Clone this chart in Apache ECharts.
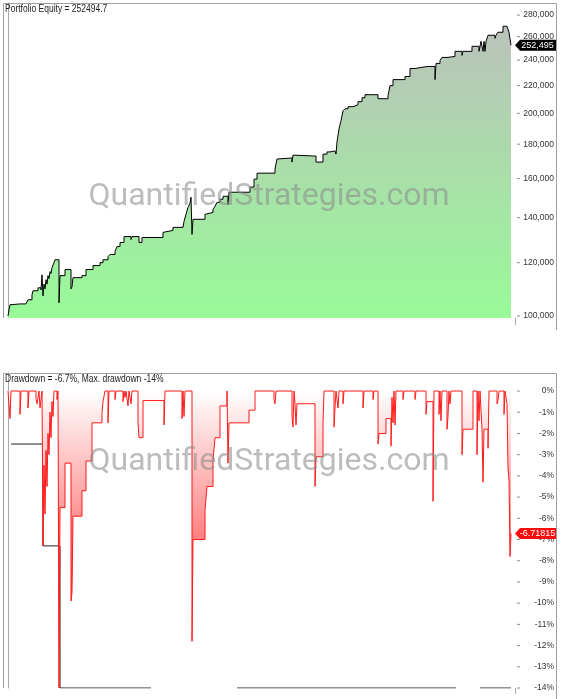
<!DOCTYPE html>
<html><head><meta charset="utf-8">
<script src="https://cdn.jsdelivr.net/npm/echarts@6/dist/echarts.min.js"></script>
<style>html,body{margin:0;padding:0;background:#fff}#c{width:567px;height:699px}</style>
</head><body><div id="c"></div>
<script>
const eqBars = [0,1,2,4,12,13,18,19,20,24,25,30,33,34,35,36,37,38,39,40,41,42,43,44,45,46,47,51,52,57,63,64,65,74,78,85,92,95,100,102,107,109,112,116,123,124,131,134,155,157,165,175,176,178,180,182,183,184,185,197,199,205,207,209,212,215,220,221,242,246,249,267,269,271,284,285,287,308,315,319,322,327,328,329,331,333,335,337,340,345,350,354,357,370,380,382,385,397,402,407,419,420,427,428,432,434,439,447,454,455,464,471,473,475,476,477,478,480,487,488,490,495,499,501,503];
const eqVals = [100000,102100,103900,104200,103500,104200,103600,104200,105700,107500,109000,110100,109300,115100,107100,111500,109700,113200,111500,114800,113600,116400,115600,118000,117200,120000,121200,104600,114800,117200,109700,110500,114000,114800,117200,118800,120000,121200,122500,123400,124600,126800,128600,131200,129900,131200,128600,130800,133100,134000,135400,135800,138200,141600,145000,147000,150100,132200,139200,141600,142500,144000,145500,147500,149100,150600,146500,152700,155400,159700,163000,165300,171100,171700,169300,173400,172800,169300,174000,175300,175900,177100,174000,181400,189700,195000,201800,203200,204600,206000,208200,211000,213200,210300,212500,219900,224500,226900,233200,234800,233200,234800,224500,237300,239700,242200,243000,247300,243900,247300,251600,247300,255900,247300,255900,247300,255900,261300,258600,261300,264000,269500,270600,264000,252494.7];
const ddBars = [0,2,3,12,13,20,21,28,29,30,31,32,33,34,35,36,37,38,39,40,41,42,43,44,45,46,49,50,51,52,57,63,64,65,74,78,84,94,95,97,100,101,107,108,115,116,117,118,120,121,123,124,130,131,135,156,157,174,175,176,177,184,185,197,199,205,207,212,219,220,221,241,247,266,267,268,284,285,286,287,288,289,307,308,315,316,326,327,328,330,331,335,336,355,356,365,366,370,371,378,383,384,385,386,387,388,395,396,407,408,418,419,425,426,431,432,433,434,439,440,441,442,443,454,455,465,469,470,471,472,474,475,476,480,481,489,490,491,496,497,499,500,501,502,503];
const ddVals = [0,-1.3,0,-1.1,0,-0.8,0,-0.4,-0.6,-0.3,0,-0.8,-0.4,0,-7.3,-3.5,-5.8,-2.8,-4.5,-2.0,-3.0,-1.0,-2.2,-0.5,-1.2,0,-0.4,0,-14.0,-5.5,-3.4,-9.9,-9.5,-5.9,-4.7,-3.3,-1.5,-1.05,-0.5,0,-1.5,0,-0.4,0,-0.5,0,-0.3,0,-0.7,0,-0.6,0,-1.5,-2.2,-0.45,-1.6,0,-1.3,0,-1.2,0,-11.8,-7.0,-5.6,-4.5,-3.3,-2.2,-0.7,0,-3.4,-1.5,-0.9,0,-0.4,-0.6,0,-1.2,-1.7,0,-0.6,-1.6,-0.6,-4.5,-3.1,-1.5,0,-1.7,-0.8,0,-0.8,0,-0.6,0,-0.8,0,-0.4,0,-2.5,-2.0,-1.3,-2.6,-0.3,-1.5,0,-1.6,0,-0.4,0,-0.4,0,-1.1,-0.5,-5.2,0,-1.1,0,-1.4,0,-1.8,-1.2,0,-0.6,0,-3.0,-1.8,0,-3.0,0,-1.4,0,-1.8,-4.3,-1.8,-2.7,0,-0.6,-0.45,0,-1.1,0,-0.6,-3.6,-4.2,-7.8,-6.71815];
const maxDdBars = [3,35,52,142,143,229,447,448,472,503];
const maxDdVals = [-2.5,-7.3,-14,-14,null,-14,-14,null,-14,-14];
const eqTicks = [100000,120000,140000,160000,180000,200000,220000,240000,260000,280000];
const ddTicks = [0,-1,-2,-3,-4,-5,-6,-7,-8,-9,-10,-11,-12,-13,-14];
const lastEquity = 252494.7;
const lastDrawdown = -6.71815;
const maxDrawdown = -14;
const watermark = 'QuantifiedStrategies.com';

const FONT = "'Liberation Sans', Arial, sans-serif";
const chart = echarts.init(document.getElementById('c'), null, {renderer: 'canvas'});
const lastBar = eqBars[eqBars.length - 1];
const tagPath = 'path://M0,5 L5,0 L41,0 L41,10 L5,10 Z';

const eqRange = {min: 99300, max: 291800};
const ddRange = {min: -14, max: 0.85};

function labelAxis(base, ticks, fmt) {
  return Object.assign({}, base, {
    position: 'right',
    axisLine: {show: true, lineStyle: {color: '#a8a8a8'}},
    axisTick: {show: false},
    splitLine: {show: false},
    axisLabel: {customValues: ticks, align: 'right', margin: 39, fontSize: 8.5, color: '#333', fontFamily: FONT, formatter: fmt}
  });
}
function tickAxis(base, ticks) {
  return Object.assign({}, base, {
    position: 'right',
    axisLine: {show: false}, axisTick: {show: false}, splitLine: {show: false},
    axisLabel: {customValues: ticks, align: 'left', margin: 2, formatter: () => '{t| }',
      rich: {t: {width: 3, height: 1, lineHeight: 1, fontSize: 1, backgroundColor: '#8c8c8c'}}}
  });
}

const eqAxisBase = Object.assign({type: 'log', logBase: 10, gridIndex: 0}, eqRange);
const ddAxisBase = Object.assign({type: 'value', gridIndex: 1}, ddRange);

chart.setOption({
  animation: false,
  backgroundColor: '#fff',
  grid: [
    {left: 8, right: 52, top: 3, height: 315},
    {left: 8, right: 52, top: 373, height: 315}
  ],
  xAxis: [
    {type: 'value', gridIndex: 0, min: 0, max: lastBar + 4, show: false},
    {type: 'value', gridIndex: 1, min: 0, max: lastBar + 4, show: false}
  ],
  yAxis: [
    labelAxis(eqAxisBase, eqTicks, v => Math.round(v).toLocaleString('en-US')),
    labelAxis(ddAxisBase, ddTicks, v => Math.round(v) + '%'),
    tickAxis(eqAxisBase, eqTicks),
    tickAxis(ddAxisBase, ddTicks)
  ],
  series: [
    {
      type: 'line', xAxisIndex: 0, yAxisIndex: 0, step: 'end', showSymbol: false, z: 3,
      data: eqBars.map((b, i) => [b, eqVals[i]]),
      lineStyle: {color: '#000', width: 1},
      areaStyle: {origin: 'start', opacity: 1, color: {type: 'linear', x: 0, y: 3, x2: 0, y2: 318, global: true,
        colorStops: [{offset: 0, color: '#bdbdbd'}, {offset: 1, color: '#98fb98'}]}},
      markPoint: {
        symbol: tagPath, symbolSize: [41, 11], symbolKeepAspect: false, symbolOffset: [24.5, 0],
        itemStyle: {color: '#000'},
        label: {show: true, position: 'inside', offset: [2, 0], color: '#fff', fontSize: 9, fontFamily: FONT,
          formatter: () => Math.round(lastEquity).toLocaleString('en-US')},
        data: [{coord: [lastBar, lastEquity]}]
      }
    },
    {
      type: 'line', xAxisIndex: 1, yAxisIndex: 1, step: 'end', showSymbol: false, z: 2,
      data: maxDdBars.map((b, i) => [b, maxDdVals[i]]),
      connectNulls: false,
      lineStyle: {color: '#222', width: 1}
    },
    {
      type: 'line', xAxisIndex: 1, yAxisIndex: 1, step: 'end', showSymbol: false, z: 3,
      data: ddBars.map((b, i) => [b, ddVals[i]]),
      lineStyle: {color: '#ff1a1a', width: 1},
      areaStyle: {opacity: 1, color: {type: 'linear', x: 0, y: 391, x2: 0, y2: 688, global: true,
        colorStops: [{offset: 0, color: '#ffffff'}, {offset: 1, color: '#ff0000'}]}},
      markPoint: {
        symbol: tagPath, symbolSize: [41, 11], symbolKeepAspect: false, symbolOffset: [24.5, 0],
        itemStyle: {color: '#ff0a0a'},
        label: {show: true, position: 'inside', offset: [2, 0], color: '#fff', fontSize: 9, fontFamily: FONT,
          formatter: () => String(lastDrawdown)},
        data: [{coord: [lastBar, lastDrawdown]}]
      }
    }
  ],
  graphic: [
    {type: 'text', silent: true, z: 20, x: 5, y: 4, scaleX: 0.85,
     style: {text: 'Portfolio Equity = ' + lastEquity, font: '10px ' + FONT, fill: '#222', align: 'left', verticalAlign: 'top'}},
    {type: 'text', silent: true, z: 20, x: 5, y: 374, scaleX: 0.85,
     style: {text: 'Drawdown = ' + lastDrawdown.toFixed(1) + '%, Max. drawdown ' + maxDrawdown + '%', font: '10px ' + FONT, fill: '#222', align: 'left', verticalAlign: 'top'}},
    {type: 'polyline', silent: true, z: 10, shape: {points: [[3.5, 318], [3.5, 3.5], [556.5, 3.5], [556.5, 330]]},
     style: {stroke: '#a0a0a0', lineWidth: 1, fill: null}},
    {type: 'line', silent: true, z: 10, shape: {x1: 515.5, y1: 318, x2: 515.5, y2: 325}, style: {stroke: '#a8a8a8', lineWidth: 1}},
    {type: 'polyline', silent: true, z: 10, shape: {points: [[3.5, 688], [3.5, 373.5], [556.5, 373.5], [556.5, 699]]},
     style: {stroke: '#a0a0a0', lineWidth: 1, fill: null}},
    {type: 'line', silent: true, z: 10, shape: {x1: 515.5, y1: 688, x2: 515.5, y2: 694}, style: {stroke: '#a8a8a8', lineWidth: 1}},
    {type: 'text', silent: true, z: 20, x: 269, y: 197,
     style: {text: watermark, font: '32px Roboto, sans-serif', fill: 'rgba(140,140,140,0.58)', align: 'center', verticalAlign: 'middle'}},
    {type: 'text', silent: true, z: 20, x: 269, y: 462,
     style: {text: watermark, font: '32px Roboto, sans-serif', fill: 'rgba(140,140,140,0.58)', align: 'center', verticalAlign: 'middle'}}
  ]
});
</script></body></html>
